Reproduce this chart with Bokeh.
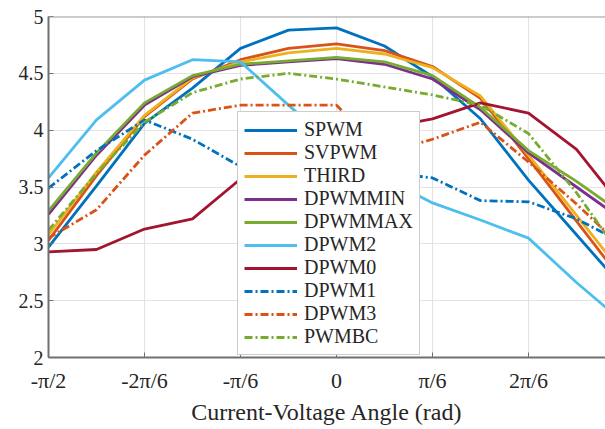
import math
from bokeh.plotting import figure
from bokeh.models import FixedTicker, Legend, LegendItem, Range1d, Span
from bokeh.embed import file_html
from bokeh.resources import INLINE

# angle steps in multiples of pi/12
angle_steps = [-6, -5, -4, -3, -2, -1, 0, 1, 2, 3, 4, 5, 6]
x_vals = [k * math.pi / 12 for k in angle_steps]

SPWM    = [2.97, 3.51, 4.06, 4.37, 4.72, 4.88, 4.90, 4.74, 4.47, 4.10, 3.56, 3.08, 2.60]
SVPWM   = [3.03, 3.60, 4.12, 4.45, 4.62, 4.72, 4.76, 4.70, 4.56, 4.28, 3.75, 3.20, 2.65]
THIRD   = [3.08, 3.63, 4.13, 4.46, 4.60, 4.68, 4.72, 4.67, 4.55, 4.30, 3.78, 3.25, 2.72]
DPWMMIN = [3.26, 3.78, 4.22, 4.47, 4.57, 4.60, 4.63, 4.58, 4.45, 4.18, 3.80, 3.50, 3.20]
DPWMMAX = [3.29, 3.80, 4.24, 4.48, 4.58, 4.61, 4.64, 4.60, 4.48, 4.20, 3.82, 3.55, 3.25]
DPWM2   = [3.58, 4.09, 4.44, 4.62, 4.60, 4.22, 3.85, 3.58, 3.36, 3.21, 3.05, 2.66, 2.30]
DPWM0   = [2.93, 2.95, 3.13, 3.22, 3.57, 3.75, 3.90, 4.02, 4.10, 4.24, 4.15, 3.83, 3.30]
DPWM1   = [3.49, 3.82, 4.09, 3.92, 3.68, 3.62, 3.60, 3.63, 3.58, 3.38, 3.37, 3.22, 3.00]
DPWM3   = [3.05, 3.30, 3.78, 4.15, 4.22, 4.22, 4.22, 3.80, 3.92, 4.07, 3.72, 3.35, 2.95]
PWMBC   = [3.12, 3.62, 4.07, 4.33, 4.45, 4.50, 4.45, 4.38, 4.31, 4.22, 3.97, 3.45, 2.85]

series_names = ["SPWM", "SVPWM", "THIRD", "DPWMMIN", "DPWMMAX",
                "DPWM2", "DPWM0", "DPWM1", "DPWM3", "PWMBC"]
series_vals = [SPWM, SVPWM, THIRD, DPWMMIN, DPWMMAX, DPWM2, DPWM0, DPWM1, DPWM3, PWMBC]
series_colors = ["#0072BD", "#D95319", "#EDB120", "#7E2F8E", "#77AC30",
                 "#4DBEEE", "#A2142F", "#0072BD", "#D95319", "#77AC30"]
series_dash = ["solid"] * 7 + ["8 3 2 3"] * 3

x_tick_steps = [-6, -4, -2, 0, 2, 4]
x_tick_labels = ["-\u03c0/2", "-2\u03c0/6", "-\u03c0/6", "0", "\u03c0/6", "2\u03c0/6"]
y_ticks = [2, 2.5, 3, 3.5, 4, 4.5, 5]
y_tick_labels = ["2", "2.5", "3", "3.5", "4", "4.5", "5"]
x_axis_title = "Current-Voltage Angle (rad)"

x_ticks = [k * math.pi / 12 for k in x_tick_steps]

W, H = 605, 429
left, top, bottom = 48, 16, 72
frame_w = W - left
x_start = -math.pi / 2
x_end = x_start + (frame_w / 96.0) * (math.pi / 6)
y_start, y_end = 2, 5

p = figure(width=W, height=H, output_backend="svg", toolbar_location=None,
           x_range=Range1d(x_start, x_end), y_range=Range1d(y_start, y_end),
           min_border_left=left, min_border_top=top, min_border_right=0,
           min_border_bottom=bottom)
p.outline_line_color = None
p.background_fill_color = "white"
p.border_fill_color = "white"

renderers = []
for name, vals, col, dash in zip(series_names, series_vals, series_colors, series_dash):
    r = p.line(x_vals, vals, line_color=col, line_width=2.8, line_dash=dash)
    renderers.append((name, r))

serif = "'Liberation Serif', 'Times New Roman', serif"
text_col = "#262626"
axis_col = "#707070"

p.xaxis.ticker = FixedTicker(ticks=x_ticks)
p.xaxis.major_label_overrides = {t: l for t, l in zip(x_ticks, x_tick_labels)}
p.yaxis.ticker = FixedTicker(ticks=y_ticks)
p.yaxis.major_label_overrides = {t: l for t, l in zip(y_ticks, y_tick_labels)}

for ax in [p.xaxis[0], p.yaxis[0]]:
    ax.major_tick_in = 5
    ax.major_tick_out = 0
    ax.minor_tick_line_color = None
    ax.axis_line_color = axis_col
    ax.axis_line_width = 2
    ax.major_tick_line_color = axis_col
    ax.major_label_text_font = serif
    ax.major_label_text_color = text_col
    ax.axis_label_text_font = serif
    ax.axis_label_text_font_style = "normal"
    ax.axis_label_text_color = text_col

p.xaxis.major_label_text_font_size = "22px"
p.yaxis.major_label_text_font_size = "20px"
p.xaxis.axis_label_text_font_size = "24px"
p.xaxis.major_label_standoff = 10
p.yaxis.major_label_standoff = 5
p.xaxis.axis_label = x_axis_title
p.xaxis.axis_label_standoff = 3

top_border = Span(location=y_end, dimension="width", line_color="#9a9a9a", line_width=2)
p.add_layout(top_border)

p.xgrid.grid_line_color = "#e3e3e3"
p.ygrid.grid_line_color = "#e3e3e3"
p.xgrid.grid_line_width = 1.2
p.ygrid.grid_line_width = 1.2

legend = Legend(items=[LegendItem(label=n, renderers=[r]) for n, r in renderers],
                location=(189, 2))
legend.label_text_font = serif
legend.label_text_font_size = "20px"
legend.label_text_color = text_col
legend.glyph_width = 53
legend.glyph_height = 20
legend.label_height = 20
legend.spacing = 0
legend.padding = 6
legend.margin = 0
legend.label_standoff = 7
legend.border_line_color = "#9a9a9a"
legend.border_line_width = 1.5
legend.background_fill_color = "white"
legend.background_fill_alpha = 1.0
p.add_layout(legend, "center")

open("out.html", "w").write(file_html(p, INLINE))
